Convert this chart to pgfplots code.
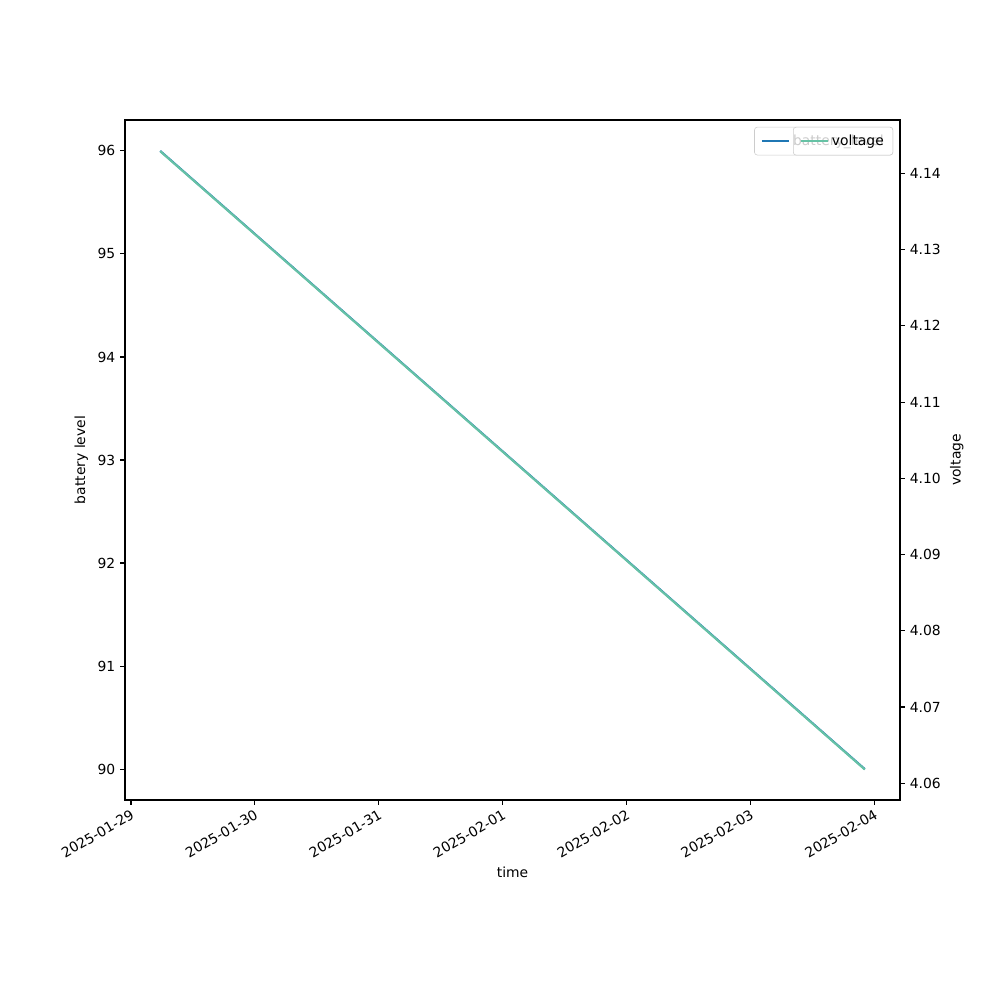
\documentclass[border=0pt]{standalone}
\usepackage{pgfplots}
\pgfplotsset{compat=1.18}
\usepackage{fontspec}
\setmainfont{DejaVu Sans}
\definecolor{mplblue}{HTML}{1F77B4}
\definecolor{setteal}{HTML}{66C2A5}
\pgfplotsset{
  mplleg/.style={
    legend cell align=left,
    legend style={at={(1,1)}, anchor=north east, xshift=-5pt, yshift=-5pt,
      draw=black!20, fill=white, fill opacity=0.8, text opacity=1,
      rounded corners=2pt, inner xsep=4.5pt, inner ysep=3.5pt,
      font=\fontsize{10bp}{12bp}\selectfont},
    legend image code/.code={\draw[##1] (0cm,0cm) -- (0.7cm,0cm);},
  },
}
\begin{document}
\begin{tikzpicture}
\path (0,0) rectangle (10in,10in);
% left axis: battery level
\begin{axis}[
  at={(1.25in,2in)}, anchor=south west,
  scale only axis, width=7.75in, height=6.8in,
  xmin=-0.048, xmax=6.206,
  ymin=89.7, ymax=96.3,
  xtick={0,1,2,3,4,5,6},
  xticklabels={2025-01-29,2025-01-30,2025-01-31,2025-02-01,2025-02-02,2025-02-03,2025-02-04},
  ytick={90,91,92,93,94,95,96},
  xtick pos=bottom, ytick pos=left,
  tick align=outside, major tick length=3.5bp,
  xticklabel style={rotate=30, anchor=north east, inner sep=2pt},
  tick label style={font=\fontsize{10bp}{12bp}\selectfont},
  label style={font=\fontsize{10bp}{12bp}\selectfont},
  /pgf/number format/assume math mode=true,
  xlabel={time}, ylabel={battery level},
  axis line style={line width=0.8bp},
  major tick style={line width=0.8bp, black},
  mplleg,
]
\addplot[color=mplblue, line width=1.5bp] coordinates {(0.236,96) (5.922,90)};
\addlegendentry{battery\_level}
\end{axis}
% right axis: voltage
\begin{axis}[
  at={(1.25in,2in)}, anchor=south west,
  scale only axis, width=7.75in, height=6.8in,
  xmin=-0.048, xmax=6.206,
  ymin=4.0578, ymax=4.1470,
  axis x line=none, axis y line*=right,
  ytick={4.06,4.07,4.08,4.09,4.10,4.11,4.12,4.13,4.14},
  yticklabel style={/pgf/number format/.cd, fixed, fixed zerofill, precision=2},
  tick align=outside, major tick length=3.5bp,
  tick label style={font=\fontsize{10bp}{12bp}\selectfont},
  label style={font=\fontsize{10bp}{12bp}\selectfont},
  /pgf/number format/assume math mode=true,
  ylabel={voltage},
  axis line style={line width=0.8bp},
  major tick style={line width=0.8bp, black},
  mplleg,
]
\addplot[color=setteal, line width=1.5bp] coordinates {(0.236,4.1429) (5.922,4.0618)};
\addlegendentry{voltage}
\end{axis}
\end{tikzpicture}
\end{document}
